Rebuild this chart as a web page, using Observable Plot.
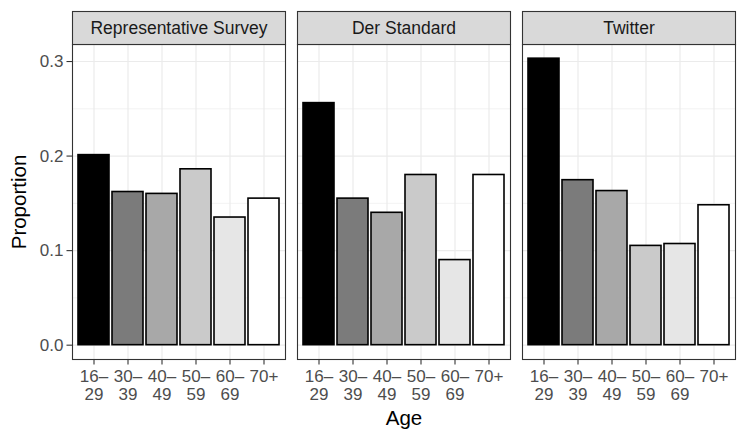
<!DOCTYPE html>
<html>
<head>
<meta charset="utf-8">
<script src="https://cdn.jsdelivr.net/npm/d3@7"></script>
<script src="https://cdn.jsdelivr.net/npm/@observablehq/plot@0.6"></script>
<style>
  html, body { margin: 0; padding: 0; background: #fff; }
</style>
</head>
<body>
<div id="chart"></div>
<script>
const panels = ["Representative Survey", "Der Standard", "Twitter"];
const ages = ["16–29", "30–39", "40–49", "50–59", "60–69", "70+"];
const ageTickLabels = ["16–\n29", "30–\n39", "40–\n49", "50–\n59", "60–\n69", "70+"];
const survey = [0.201, 0.162, 0.160, 0.186, 0.135, 0.155];
const derStandard = [0.256, 0.155, 0.140, 0.180, 0.090, 0.180];
const twitter = [0.303, 0.1745, 0.163, 0.105, 0.107, 0.148];
const yTicks = [0, 0.1, 0.2, 0.3];
const yMinor = [0.05, 0.15, 0.25];
const greys = ["#000000", "#7B7B7B", "#A8A8A8", "#CACACA", "#E6E6E6", "#FFFFFF"];

const seriesByPanel = [survey, derStandard, twitter];
const data = panels.flatMap((p, i) => ages.map((a, j) => ({panel: p, age: a, value: seriesByPanel[i][j]})));

const W = 747, H = 440;
const mTop = 44, mBottom = 81, mLeft = 71, mRight = 11;
const panelH = H - mTop - mBottom;

const chart = Plot.plot({
  width: W,
  height: H,
  marginTop: mTop,
  marginBottom: mBottom,
  marginLeft: mLeft,
  marginRight: mRight,
  style: {fontFamily: "'Liberation Sans', Arial, Helvetica, sans-serif", fontSize: "17px", background: "#fff"},
  fx: {domain: panels, axis: null, paddingInner: 0.053, paddingOuter: 0},
  x: {domain: ages, paddingInner: 0.1, paddingOuter: 0.15, align: 0.5},
  y: {domain: [-0.01515, 0.318]},
  color: {domain: ages, range: greys},
  marks: [
    Plot.gridY(yMinor, {stroke: "#EBEBEB", strokeOpacity: 1, strokeWidth: 0.6}),
    Plot.gridY(yTicks, {stroke: "#EBEBEB", strokeOpacity: 1, strokeWidth: 1.2}),
    Plot.gridX(ages, {stroke: "#EBEBEB", strokeOpacity: 1, strokeWidth: 1.2}),
    Plot.barY(data, {fx: "panel", x: "age", y: "value", fill: "age", stroke: "#000", strokeWidth: 1.6, insetLeft: 0, insetRight: 0}),
    Plot.frame({stroke: "#333333", strokeWidth: 1.1}),
    Plot.frame({fill: "#D9D9D9", stroke: "#333333", strokeWidth: 1.1, insetTop: -33, insetBottom: panelH}),
    Plot.text(panels, {fx: d => d, text: d => d, frameAnchor: "top", lineAnchor: "middle", textAnchor: "middle", dy: -15.8, fontSize: 17.5, fill: "#1A1A1A"}),
    Plot.axisY({ticks: yTicks, tickFormat: d3.format(".1f"), tickSize: 5.5, tickPadding: 3.5, fontSize: 17, stroke: "#333333", fill: "#4D4D4D", strokeWidth: 1.1, label: null}),
    Plot.axisX({tickFormat: d => ageTickLabels[ages.indexOf(d)], tickSize: 5.5, tickPadding: 4.5, fontSize: 17, lineHeight: 1.04, stroke: "#333333", fill: "#4D4D4D", strokeWidth: 1.1, label: null}),
    Plot.text(["Der Standard"], {fx: d => d, text: () => "Age", frameAnchor: "bottom", lineAnchor: "middle", textAnchor: "middle", dy: 58.5, fontSize: 20.5, fill: "#000"}),
    Plot.text(["Representative Survey"], {fx: d => d, text: () => "Proportion", frameAnchor: "left", lineAnchor: "middle", textAnchor: "middle", dx: -53, rotate: -90, fontSize: 20.5, fill: "#000"})
  ]
});
document.getElementById("chart").appendChild(chart);
</script>
</body>
</html>
